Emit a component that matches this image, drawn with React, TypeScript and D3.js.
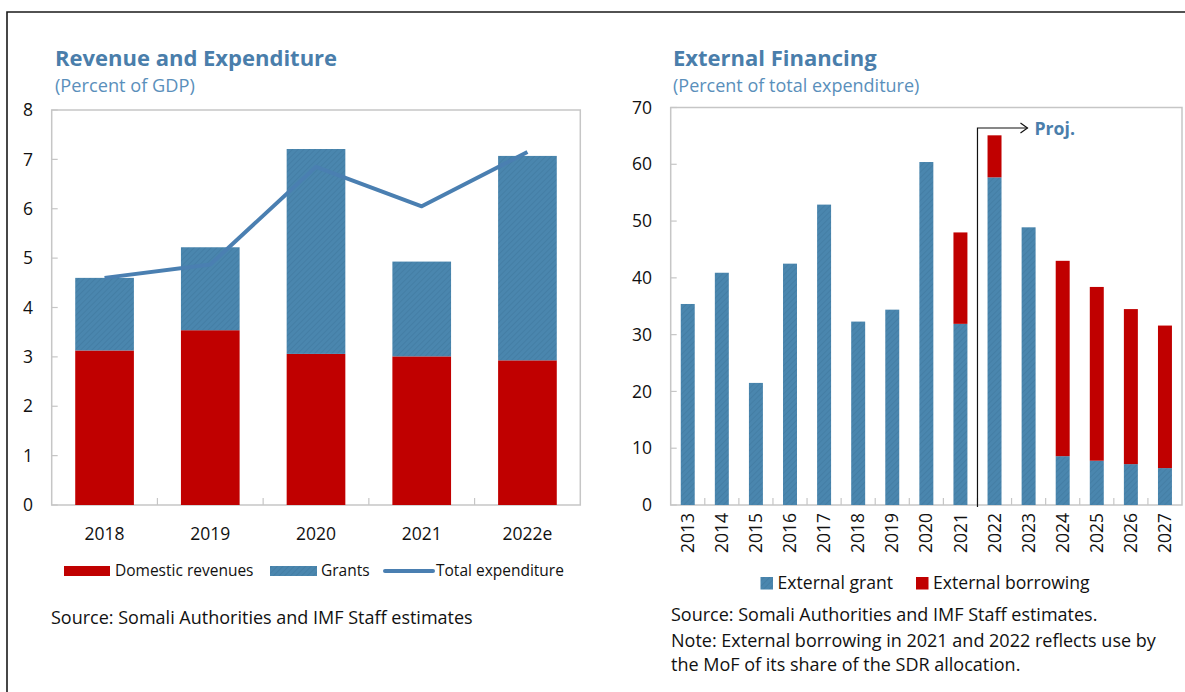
import React from "react";
import * as d3 from "d3";

// ---------- Left chart data ----------
const leftYears = ["2018", "2019", "2020", "2021", "2022e"];
const domesticRevenues = [3.13, 3.54, 3.06, 3.01, 2.93];
const grants = [1.47, 1.68, 4.15, 1.92, 4.14];
const totalExpenditure = [4.6, 4.87, 6.85, 6.05, 7.15];
const leftTicks = [0, 1, 2, 3, 4, 5, 6, 7, 8];

// ---------- Right chart data ----------
const rightYears = ["2013", "2014", "2015", "2016", "2017", "2018", "2019", "2020", "2021", "2022", "2023", "2024", "2025", "2026", "2027"];
const externalGrant = [35.4, 40.9, 21.5, 42.5, 52.9, 32.3, 34.4, 60.4, 31.9, 57.7, 48.9, 8.6, 7.8, 7.2, 6.5];
const externalBorrowing = [0, 0, 0, 0, 0, 0, 0, 0, 16.1, 7.4, 0, 34.4, 30.6, 27.3, 25.1];
const rightTicks = [0, 10, 20, 30, 40, 50, 60, 70];
const projStartYear = "2022";

const RED = "#c00000";
const BLUE = "#4a86ae";
const LINE_BLUE = "#4a7fb1";
const TITLE_BLUE = "#4a7eab";
const FONT = "'Open Sans', 'Noto Sans', sans-serif";
const GRID = "#c6c6c6";

export default function App() {
  // Left chart geometry
  const L = { x0: 51.7, x1: 580.3, y0: 505, y1: 110 };
  const lx = d3.scaleBand<string>().domain(leftYears).range([L.x0, L.x1]).paddingInner(0.445).paddingOuter(0.2225);
  const lxOuter = d3.scaleBand<string>().domain(leftYears).range([L.x0, L.x1]);
  const ly = d3.scaleLinear().domain([0, 8]).range([L.y0, L.y1]);
  const line = d3
    .line<number>()
    .x((_, i) => (lx(leftYears[i]) as number) + lx.bandwidth() / 2)
    .y((d) => ly(d));

  // Right chart geometry
  const R = { x0: 670.7, x1: 1182, y0: 505, y1: 107.5 };
  const rx = d3.scaleBand<string>().domain(rightYears).range([R.x0, R.x1]).paddingInner(0.59).paddingOuter(0.295);
  const rxOuter = d3.scaleBand<string>().domain(rightYears).range([R.x0, R.x1]);
  const ry = d3.scaleLinear().domain([0, 70]).range([R.y0, R.y1]);
  const projX = rxOuter(projStartYear) as number;
  const projY = 128;

  return (
    <svg width={1185} height={692} style={{ position: "absolute", left: 0, top: 0 }} fontFamily={FONT}>
      <defs>
        <pattern id="hatch" patternUnits="userSpaceOnUse" width={4} height={4} patternTransform="rotate(45)">
          <rect width={4} height={4} fill={BLUE} />
          <line x1={0} y1={0} x2={0} y2={4} stroke="#3f789f" strokeWidth={1.2} />
        </pattern>
      </defs>
      <rect x={0} y={0} width={1185} height={692} fill="#fff" />
      {/* outer frame */}
      <path d="M7,692 L7,12 L1185,12" fill="none" stroke="#1a1a1a" strokeWidth={1.6} />

      {/* ---------------- Left chart ---------------- */}
      <text x={55} y={66} fontSize={22} fontWeight={700} fill={TITLE_BLUE}>Revenue and Expenditure</text>
      <text x={55} y={92} fontSize={18.2} fill="#5a8fbb">(Percent of GDP)</text>
      <rect x={L.x0} y={L.y1} width={L.x1 - L.x0} height={L.y0 - L.y1} fill="none" stroke={GRID} strokeWidth={1.5} />
      {leftTicks.map((t) => (
        <g key={t}>
          <line x1={L.x0} x2={L.x0 + 6} y1={ly(t)} y2={ly(t)} stroke={GRID} strokeWidth={1.2} />
          <text x={33} y={ly(t)} dy="0.35em" textAnchor="end" fontSize={17.5} fill="#111">{t}</text>
        </g>
      ))}
      {leftYears.slice(1).map((yr) => (
        <line key={yr} x1={lxOuter(yr)} x2={lxOuter(yr)} y1={L.y0} y2={L.y0 - 7} stroke={GRID} strokeWidth={1.2} />
      ))}
      {leftYears.map((yr, i) => (
        <g key={yr}>
          <rect x={lx(yr)} width={lx.bandwidth()} y={ly(domesticRevenues[i])} height={ly(0) - ly(domesticRevenues[i])} fill={RED} />
          <rect x={lx(yr)} width={lx.bandwidth()} y={ly(domesticRevenues[i] + grants[i])} height={ly(0) - ly(grants[i])} fill="url(#hatch)" />
          <text x={(lx(yr) as number) + lx.bandwidth() / 2} y={540} textAnchor="middle" fontSize={17.5} fill="#111">{yr}</text>
        </g>
      ))}
      <path d={line(totalExpenditure) || ""} fill="none" stroke={LINE_BLUE} strokeWidth={4} strokeLinejoin="round" />
      {/* legend */}
      <rect x={64} y={566} width={46} height={10} fill={RED} />
      <text x={115} y={571} dy="0.35em" fontSize={15.5} fill="#111">Domestic revenues</text>
      <rect x={270} y={566} width={47} height={10} fill="url(#hatch)" />
      <text x={321} y={571} dy="0.35em" fontSize={15.5} fill="#111">Grants</text>
      <line x1={385} x2={433} y1={571} y2={571} stroke={LINE_BLUE} strokeWidth={4} strokeLinecap="round" />
      <text x={436} y={571} dy="0.35em" fontSize={15.5} fill="#111">Total expenditure</text>
      <text x={51} y={624} fontSize={18} fill="#111">Source: Somali Authorities and IMF Staff estimates</text>

      {/* ---------------- Right chart ---------------- */}
      <text x={673} y={66} fontSize={22} fontWeight={700} fill={TITLE_BLUE}>External Financing</text>
      <text x={673} y={92} fontSize={18} fill="#5a8fbb">(Percent of total expenditure)</text>
      <rect x={R.x0} y={R.y1} width={R.x1 - R.x0} height={R.y0 - R.y1} fill="none" stroke={GRID} strokeWidth={1.5} />
      {rightTicks.map((t) => (
        <g key={t}>
          <line x1={R.x0} x2={R.x0 + 6} y1={ry(t)} y2={ry(t)} stroke={GRID} strokeWidth={1.2} />
          <text x={652} y={ry(t)} dy="0.35em" textAnchor="end" fontSize={17.5} fill="#111">{t}</text>
        </g>
      ))}
      {rightYears.slice(1).map((yr) => (
        <line key={yr} x1={rxOuter(yr)} x2={rxOuter(yr)} y1={R.y0} y2={R.y0 - 7} stroke={GRID} strokeWidth={1.2} />
      ))}
      {rightYears.map((yr, i) => {
        const cx = (rx(yr) as number) + rx.bandwidth() / 2;
        return (
          <g key={yr}>
            <rect x={rx(yr)} width={rx.bandwidth()} y={ry(externalGrant[i])} height={ry(0) - ry(externalGrant[i])} fill="url(#hatch)" />
            {externalBorrowing[i] > 0 && (
              <rect x={rx(yr)} width={rx.bandwidth()} y={ry(externalGrant[i] + externalBorrowing[i])} height={ry(0) - ry(externalBorrowing[i])} fill={RED} />
            )}
            <text transform={`translate(${cx},513) rotate(-90)`} textAnchor="end" dy="0.35em" fontSize={17.5} fill="#111">{yr}</text>
          </g>
        );
      })}
      {/* projection marker */}
      <path d={`M${projX},${R.y0 + 2} L${projX},${projY} L${projX + 50},${projY}`} fill="none" stroke="#111" strokeWidth={1.2} />
      <path d={`M${projX + 43},${projY - 5} L${projX + 50},${projY} L${projX + 43},${projY + 5}`} fill="none" stroke="#111" strokeWidth={1.2} />
      <text x={projX + 57} y={projY + 1} dy="0.35em" fontSize={17.7} fontWeight={700} fill={TITLE_BLUE}>Proj.</text>
      {/* legend */}
      <rect x={760.5} y={577} width={12.5} height={12.5} fill="url(#hatch)" />
      <text x={777.5} y={583} dy="0.35em" fontSize={17.6} fill="#111">External grant</text>
      <rect x={916} y={577} width={12.5} height={12.5} fill={RED} />
      <text x={933} y={583} dy="0.35em" fontSize={17.6} fill="#111">External borrowing</text>
      <text x={671} y={621} fontSize={18} fill="#111">Source: Somali Authorities and IMF Staff estimates.</text>
      <text x={671} y={647} fontSize={18} fill="#111">Note: External borrowing in 2021 and 2022 reflects use by</text>
      <text x={671} y={671} fontSize={18} fill="#111">the MoF of its share of the SDR allocation.</text>
    </svg>
  );
}
